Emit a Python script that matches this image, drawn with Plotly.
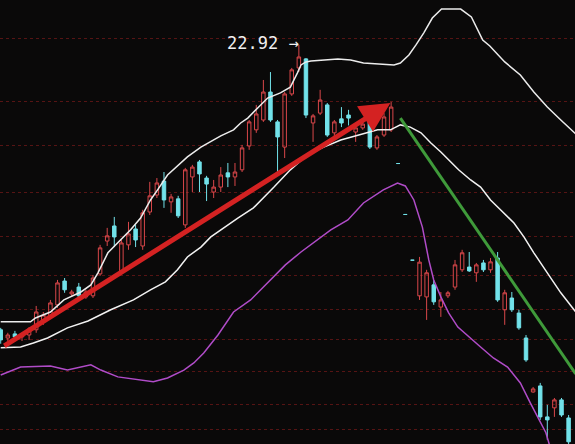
import plotly.graph_objects as go

# ---- candles (index, open, high, low, close) ----
opens = [12.52,12.22,12.37,12.26,12.33,12.52,12.88,13.03,13.43,14.30,
         13.83,14.08,13.72,13.76,14.56,15.76,16.31,14.67,15.62,16.20,
         15.58,16.82,17.44,17.95,17.19,17.30,16.35,18.10,18.65,18.06,
         17.55,17.73,18.25,18.10,18.36,19.23,19.82,20.18,21.20,20.11,
         19.19,21.13,22.08,22.41,20.07,20.43,20.73,19.71,20.22,20.36,
         19.74,19.89,20.11,19.16,19.63,19.82,18.59,16.73,15.06,13.76,
         13.72,14.16,13.35,13.76,14.08,14.71,14.81,14.60,14.96,14.71,
         15.14,13.25,13.68,13.13,12.22,10.25,10.47,9.34,9.67,9.96,9.30]
highs = [12.59,12.41,12.48,12.37,12.62,13.39,13.17,13.61,14.34,14.41,
         13.98,14.23,13.98,14.52,15.62,16.24,16.64,15.80,16.46,16.35,
         16.90,17.92,18.06,18.28,17.48,17.41,18.43,18.54,18.72,18.14,
         17.99,18.46,18.61,18.61,19.27,20.18,20.73,21.64,21.93,20.18,
         21.20,22.08,22.92,22.44,20.40,21.28,20.80,20.18,20.65,20.55,
         19.96,20.18,20.18,19.63,20.43,20.84,18.59,16.73,15.06,15.18,
         14.71,14.34,13.90,13.94,15.07,15.44,15.36,14.96,15.07,15.14,
         15.36,13.98,13.90,13.25,12.33,10.43,10.58,9.78,10.03,10.03,9.41]
lows = [12.01,12.11,12.15,12.11,12.15,12.41,12.70,12.95,13.32,13.87,
        13.72,13.68,13.65,13.68,14.49,15.58,15.54,14.56,15.44,15.54,
        15.44,16.71,17.33,16.97,16.79,16.60,16.24,17.55,17.55,17.22,
        17.33,17.55,17.73,17.77,18.28,19.09,19.71,20.11,20.11,18.28,
        18.79,21.06,21.93,20.25,19.38,20.36,19.56,19.45,19.92,19.98,
        19.38,19.82,19.12,19.09,19.56,19.74,18.59,16.73,15.06,13.61,
        12.88,13.43,12.99,13.68,13.98,14.63,14.63,14.27,14.63,14.60,
        13.54,12.70,13.17,12.52,11.35,10.22,9.23,8.50,9.34,9.34,8.28]
closes = [12.15,12.33,12.26,12.30,12.55,13.17,13.06,13.50,14.23,13.98,
          13.90,13.76,13.90,14.41,15.51,15.95,15.91,15.69,16.02,15.80,
          16.79,17.41,17.88,17.26,17.37,16.68,18.36,18.46,18.21,17.84,
          17.73,18.17,18.10,18.28,19.16,20.11,20.40,21.20,20.18,19.56,
          21.13,22.01,22.48,20.36,20.33,20.91,19.63,20.11,20.07,20.25,
          19.89,20.03,19.19,19.56,20.29,20.65,18.59,16.73,15.06,14.99,
          14.60,13.54,13.61,13.87,14.89,15.33,14.67,14.89,14.71,15.00,
          13.61,13.87,13.25,12.59,11.42,10.36,9.34,9.23,9.96,9.41,8.43]
days = list(range(len(opens)))

# ---- bands (x in bar index, price) ----
upper_x = [0.0,4.2,4.9,7.0,8.9,11.3,12.7,13.7,15.1,16.9,18.3,19.7,21.1,22.1,23.5,26.3,28.2,31.0,
           32.8,33.8,34.8,36.2,37.6,39.4,40.8,41.8,42.3,43.0,43.7,47.5,49.3,51.1,53.5,55.4,56.3,
           57.5,58.5,59.6,60.8,62.1,64.8,66.3,67.9,68.9,71.0,73.2,75.1,77.0,78.9,81.0]
upper_y = [12.81,12.81,12.95,13.17,13.61,13.90,14.16,14.60,15.33,15.80,16.17,16.60,17.26,17.63,
           18.17,18.83,19.19,19.60,19.82,20.07,20.25,20.62,20.98,21.17,21.38,21.90,22.19,22.30,
           22.33,22.41,22.37,22.26,22.22,22.19,22.26,22.55,22.92,23.36,23.90,24.23,24.23,23.94,
           23.10,22.88,22.30,21.82,21.20,20.65,20.18,19.67]
mid_x = [0.0,2.8,4.6,6.6,9.4,12.3,15.5,18.7,21.1,23.2,24.9,26.3,28.2,29.6,33.4,35.6,38.5,40.8,
         43.2,45.5,47.9,50.3,51.7,53.1,54.9,56.3,57.7,59.2,60.6,62.0,64.5,66.2,67.6,69.0,70.4,
         72.3,73.7,75.1,77.0,78.9,81.0]
mid_y = [11.86,11.89,12.04,12.22,12.59,12.84,13.25,13.61,13.98,14.27,14.71,15.18,15.54,15.91,
         16.60,16.97,17.73,18.36,18.90,19.19,19.45,19.63,19.74,19.82,19.82,20.00,19.92,19.71,
         19.34,19.01,18.36,17.99,17.73,17.26,16.90,16.42,15.91,15.33,14.60,13.87,13.17]
lower_x = [0.0,2.8,7.0,9.4,12.7,14.1,16.5,18.7,21.5,23.5,25.8,27.2,28.6,30.6,32.8,35.2,37.6,40.1,
           42.3,46.5,48.9,51.1,53.9,55.9,57.0,58.2,59.4,60.3,61.0,62.0,63.1,64.4,67.6,69.4,71.4,
           73.2,74.6,75.8,76.8,77.5]
lower_y = [10.87,11.16,11.20,11.05,11.24,11.05,10.80,10.73,10.62,10.76,11.05,11.31,11.67,12.33,
           13.17,13.61,14.23,14.89,15.36,16.17,16.53,17.15,17.63,17.88,17.77,17.26,16.27,15.07,
           14.34,13.72,13.14,12.62,11.89,11.49,11.16,10.58,9.85,9.23,8.76,8.14]

grid_levels = [23.14,20.87,19.23,17.52,15.91,14.49,13.25,12.15,10.98,9.78,8.87]

trend_up = {"x0": 0.3, "y0": 11.90, "x1": 54.9, "y1": 20.80}
trend_down = {"x0": 56.3, "y0": 20.25, "x1": 81.0, "y1": 10.91}
peak_label = "22.92 →"
peak_idx = 42
peak_val = 22.92

fig = go.Figure()
fig.add_trace(go.Scatter(x=upper_x, y=upper_y, mode="lines",
                         line=dict(color="#ececec", width=1.5), hoverinfo="skip"))
fig.add_trace(go.Scatter(x=mid_x, y=mid_y, mode="lines",
                         line=dict(color="#f2f2f2", width=1.5), hoverinfo="skip"))
fig.add_trace(go.Scatter(x=lower_x, y=lower_y, mode="lines",
                         line=dict(color="#b04cc8", width=1.5), hoverinfo="skip"))
fig.add_trace(go.Candlestick(
    x=days, open=opens, high=highs, low=lows, close=closes,
    increasing=dict(line=dict(color="#d9474a", width=1), fillcolor="rgba(0,0,0,0)"),
    decreasing=dict(line=dict(color="#72e2ea", width=1), fillcolor="#72e2ea"),
    whiskerwidth=0, hoverinfo="skip"))

fig.add_annotation(x=trend_up["x1"], y=trend_up["y1"], ax=trend_up["x0"], ay=trend_up["y0"],
                   xref="x", yref="y", axref="x", ayref="y", text="", showarrow=True,
                   arrowhead=2, arrowsize=1.2, arrowwidth=5, arrowcolor="#d42222")
fig.add_shape(type="line", x0=trend_down["x0"], y0=trend_down["y0"], x1=trend_down["x1"],
              y1=trend_down["y1"], xref="x", yref="y", line=dict(color="#3f9a3a", width=3))

fig.add_annotation(x=peak_idx, y=peak_val, text=peak_label, showarrow=False,
                   xanchor="right", yanchor="middle", xshift=2, yshift=2,
                   font=dict(family="DejaVu Sans Mono", size=17, color="#f0f0f0"))

fig.update_layout(
    width=575, height=444, margin=dict(l=0, r=0, t=0, b=0),
    paper_bgcolor="#0a0909", plot_bgcolor="#0a0909", showlegend=False,
    xaxis=dict(range=[-0.1, 80.9], visible=False, rangeslider=dict(visible=False),
               showgrid=False, zeroline=False),
    yaxis=dict(range=[8.35, 24.56], tickvals=grid_levels, showticklabels=False,
               showgrid=True, gridcolor="rgba(150,30,30,0.55)", griddash="dot", gridwidth=1,
               zeroline=False, showline=False),
)
fig.write_html("out.html", config={"displayModeBar": False},
               post_script="document.body.style.margin='0';document.body.style.background='#0a0909';")
